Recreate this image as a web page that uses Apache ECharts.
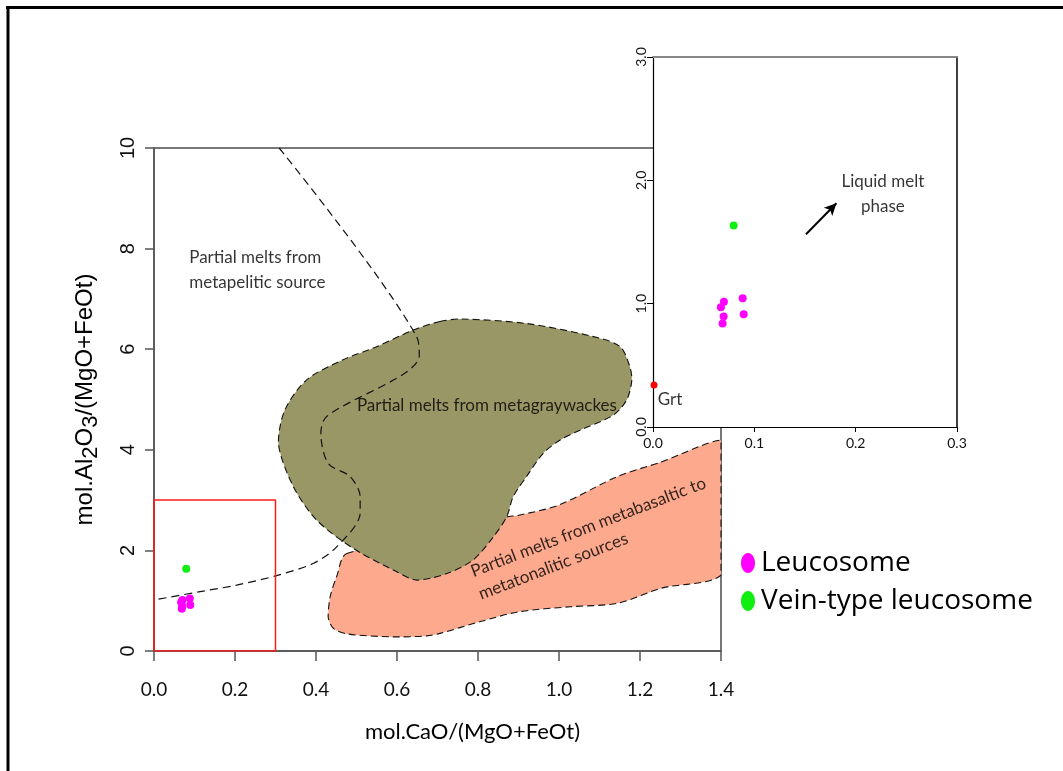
<!DOCTYPE html>
<html>
<head>
<meta charset="utf-8">
<script src="https://cdn.jsdelivr.net/npm/echarts@6/dist/echarts.min.js"></script>
<style>
html,body{margin:0;padding:0;background:#fff;}
#chart{width:1063px;height:771px;}
</style>
</head>
<body>
<div id="chart"></div>
<script>
// ---------------- data ----------------
// tick values of the main diagram and of the zoomed inset
var mainXTicks = [0, 0.2, 0.4, 0.6, 0.8, 1.0, 1.2, 1.4];
var mainYTicks = [0, 2, 4, 6, 8, 10];
var insetXTicks = [0, 0.1, 0.2, 0.3];
var insetYTicks = [0, 1, 2, 3];

// samples: [CaO/(MgO+FeOt), Al2O3/(MgO+FeOt)]
var leucosome = [[0.067, 0.97], [0.070, 1.016], [0.0885, 1.043], [0.0697, 0.895], [0.0687, 0.84], [0.0895, 0.914]];
var veinLeucosome = [[0.0796, 1.633]];
var garnet = [[0.001, 0.34]];

// field outlines
var metagraywackeField = [
	[0.706, 6.55], [0.756, 6.60], [0.920, 6.51], [1.085, 6.25], [1.151, 6.05], [1.175, 5.65],
	[1.180, 5.39], [1.167, 4.99], [1.134, 4.69], [1.052, 4.39], [1.002, 4.19], [0.961, 3.93],
	[0.920, 3.47], [0.887, 3.07], [0.871, 2.67], [0.838, 2.27], [0.788, 1.81], [0.723, 1.54],
	[0.649, 1.41], [0.591, 1.61], [0.492, 2.04], [0.402, 2.60], [0.344, 3.27], [0.307, 4.13],
	[0.323, 4.79], [0.377, 5.39], [0.467, 5.79], [0.550, 6.05], [0.640, 6.38]
];
var metabasaltField = [
	[0.476, 1.94], [0.657, 2.11], [0.867, 2.66], [0.901, 2.70], [0.999, 2.90], [1.145, 3.47],
	[1.253, 3.76], [1.400, 4.19], [1.400, 3.40], [1.400, 2.40], [1.400, 1.51], [1.253, 1.25],
	[1.145, 0.95], [1.028, 0.88], [0.901, 0.78], [0.804, 0.58], [0.706, 0.35], [0.673, 0.30],
	[0.591, 0.28], [0.476, 0.34], [0.443, 0.45], [0.430, 0.68], [0.435, 1.08], [0.451, 1.48]
];
var metapeliteBoundary = [
	[0.309, 10.0], [0.649, 6.24], [0.655, 5.88], [0.426, 4.66], [0.412, 4.33], [0.430, 3.73],
	[0.484, 3.47], [0.509, 3.07], [0.509, 2.74], [0.451, 2.07], [0.393, 1.74], [0.303, 1.50],
	[0.204, 1.31], [0.114, 1.18], [0.011, 1.03]
];
var zoomBox = [[0, 0], [0, 3], [0.3, 3], [0.3, 0], [0, 0]];
var meltArrow = [[0.151, 1.563], [0.181, 1.814]];

// text notes
var mainNotes = [
	{ text: 'Partial melts from\nmetapelitic source', at: [0.087, 7.575], align: 'left', rotate: 0 },
	{ text: 'Partial melts from metagraywackes', at: [0.822, 4.89], align: 'center', rotate: 0 },
	{ text: 'Partial melts from metabasaltic to', at: [0.784, 1.57], align: 'left', rotate: 21 },
	{ text: 'metatonalitic sources', at: [0.803, 1.12], align: 'left', rotate: 21 }
];
var insetNotes = [
	{ text: 'Liquid melt\nphase', at: [0.2268, 1.89], align: 'center', rotate: 0 },
	{ text: 'Grt', at: [0.0046, 0.219], align: 'left', rotate: 0 }
];

// ---------------- chart ----------------
var TEXT_FONT = 'Lato';
var fmt1 = function (v) { return v.toFixed(1); };

function fieldRender(points, fill)
{
	return function (params, api) {
		if (params.dataIndex !== 0) return;
		var pts = points.map(function (p) { return api.coord(p); });
		// keep the bezier control points inside the outline's box
		var lo = [Infinity, Infinity], hi = [-Infinity, -Infinity];
		pts.forEach(function (p) {
			lo[0] = Math.min(lo[0], p[0]); lo[1] = Math.min(lo[1], p[1]);
			hi[0] = Math.max(hi[0], p[0]); hi[1] = Math.max(hi[1], p[1]);
		});
		return {
			type: 'polygon',
			shape: { points: pts, smooth: 0.3, smoothConstraint: [lo, hi] },
			style: { fill: fill, stroke: '#111', lineWidth: 1.1, lineDash: [7, 4] }
		};
	};
}

function noteSeries(notes, xi, yi, z)
{
	return {
		type: 'scatter', xAxisIndex: xi, yAxisIndex: yi, z: z,
		symbolSize: 0, silent: true,
		data: notes.map(function (n) {
			return {
				value: n.at,
				label: {
					show: true, position: [0, 0], formatter: n.text,
					align: n.align, verticalAlign: 'middle', rotate: n.rotate,
					fontFamily: TEXT_FONT, fontSize: 17, lineHeight: 24.6, color: '#000'
				}
			};
		})
	};
}

var ellipse = 'path://M7,0 C10.9,0 14,4.5 14,10 C14,15.5 10.9,20 7,20 C3.1,20 0,15.5 0,10 C0,4.5 3.1,0 7,0 Z';

var option = {
	animation: false,
	backgroundColor: '#fff',
	graphic: [
		{ type: 'line', shape: { x1: 6, y1: 7.5, x2: 1063, y2: 7.5 }, style: { stroke: '#000', lineWidth: 3 } },
		{ type: 'line', shape: { x1: 8, y1: 6, x2: 8, y2: 771 }, style: { stroke: '#000', lineWidth: 3 } }
	],
	legend: {
		orient: 'vertical', left: 736, top: 544, itemGap: 10,
		itemWidth: 14, itemHeight: 20, icon: ellipse,
		data: ['Leucosome', 'Vein-type leucosome'],
		textStyle: { fontFamily: 'Open Sans', fontSize: 28, color: '#000', padding: [0, 0, 0, 1] }
	},
	grid: [
		{ left: 154, top: 148, width: 567, height: 503, show: true, borderColor: '#777', borderWidth: 2, backgroundColor: 'transparent' },
		{ left: 653, top: 57, width: 304, height: 370, show: true, borderWidth: 0, backgroundColor: '#fff', z: 5 }
	],
	xAxis: [
		{
			gridIndex: 0, type: 'value',
			min: mainXTicks[0], max: mainXTicks[mainXTicks.length - 1], interval: mainXTicks[1] - mainXTicks[0],
			axisLine: { show: true, onZero: false, lineStyle: { color: '#555', width: 1.5 } },
			axisTick: { show: true, length: 10, lineStyle: { color: '#555', width: 1.5 } },
			axisLabel: { margin: 29, fontSize: 19, fontFamily: TEXT_FONT, color: '#111', formatter: fmt1 },
			splitLine: { show: false },
			name: 'mol.CaO/(MgO+FeOt)', nameLocation: 'middle', nameGap: 70,
			nameTextStyle: { fontSize: 22, fontFamily: TEXT_FONT, color: '#000', padding: [0, 0, 0, 70] }
		},
		{
			gridIndex: 1, type: 'value', z: 10,
			min: insetXTicks[0], max: insetXTicks[insetXTicks.length - 1], interval: insetXTicks[1] - insetXTicks[0],
			axisLine: { show: true, onZero: false, lineStyle: { color: '#000', width: 1.2 } },
			axisTick: { show: true, length: 5, lineStyle: { color: '#000' } },
			axisLabel: { margin: 9, fontSize: 14, fontFamily: TEXT_FONT, color: '#111', formatter: fmt1 },
			splitLine: { show: false }
		},
		{
			gridIndex: 1, type: 'value', position: 'top', z: 10,
			min: 0, max: 0.3,
			axisLine: { show: true, onZero: false, lineStyle: { color: '#888', width: 2 } },
			axisTick: { show: false }, axisLabel: { show: false }, splitLine: { show: false }
		}
	],
	yAxis: [
		{
			gridIndex: 0, type: 'value',
			min: mainYTicks[0], max: mainYTicks[mainYTicks.length - 1], interval: mainYTicks[1] - mainYTicks[0],
			axisLine: { show: true, onZero: false, lineStyle: { color: '#555', width: 1.5 } },
			axisTick: { show: true, length: 9, lineStyle: { color: '#555', width: 1.5 } },
			axisLabel: { rotate: 90, margin: 16, fontSize: 20, fontFamily: 'Liberation Sans', color: '#111' },
			splitLine: { show: false },
			name: '{a|mol.Al}{s|2}{a|O}{s|3}{a|/(MgO+FeOt)}',
			nameLocation: 'middle', nameRotate: 90, nameGap: 52,
			nameTextStyle: {
				rich: {
					a: { fontSize: 24, fontFamily: 'Liberation Sans', color: '#000', lineHeight: 34 },
					s: { fontSize: 22, fontFamily: 'Liberation Sans', color: '#000', lineHeight: 34, verticalAlign: 'bottom' }
				}
			}
		},
		{
			gridIndex: 1, type: 'value', z: 10,
			min: insetYTicks[0], max: insetYTicks[insetYTicks.length - 1], interval: insetYTicks[1] - insetYTicks[0],
			axisLine: { show: true, onZero: false, lineStyle: { color: '#000', width: 1.2 } },
			axisTick: { show: true, length: 6, lineStyle: { color: '#000' } },
			axisLabel: { rotate: 90, margin: 5, fontSize: 14, fontFamily: TEXT_FONT, color: '#111', formatter: fmt1 },
			splitLine: { show: false }
		},
		{
			gridIndex: 1, type: 'value', position: 'right', z: 10,
			min: 0, max: 3,
			axisLine: { show: true, onZero: false, lineStyle: { color: '#000', width: 1.5 } },
			axisTick: { show: false }, axisLabel: { show: false }, splitLine: { show: false }
		}
	],
	series: [
		{ type: 'custom', name: 'metabasalt', xAxisIndex: 0, yAxisIndex: 0, silent: true,
		  data: metabasaltField, renderItem: fieldRender(metabasaltField, '#fca98d') },
		{ type: 'custom', name: 'metagraywacke', xAxisIndex: 0, yAxisIndex: 0, silent: true,
		  data: metagraywackeField, renderItem: fieldRender(metagraywackeField, '#9a9766') },
		{ type: 'line', name: 'metapelite', xAxisIndex: 0, yAxisIndex: 0, silent: true,
		  data: metapeliteBoundary, symbol: 'none', smooth: 0.3,
		  lineStyle: { color: '#111', width: 1.2, type: [8, 5] } },
		{ type: 'line', name: 'box', xAxisIndex: 0, yAxisIndex: 0, silent: true, z: 3,
		  data: zoomBox, symbol: 'none', lineStyle: { color: '#ff1a1a', width: 1.5 } },
		{ type: 'scatter', name: 'Leucosome', xAxisIndex: 0, yAxisIndex: 0, z: 4,
		  data: leucosome, symbolSize: 8, itemStyle: { color: '#ff00ff', opacity: 1 } },
		{ type: 'scatter', name: 'Vein-type leucosome', xAxisIndex: 0, yAxisIndex: 0, z: 4,
		  data: veinLeucosome, symbolSize: 8, itemStyle: { color: '#11ee11', opacity: 1 } },
		noteSeries(mainNotes, 0, 0, 4),

		{ type: 'scatter', name: 'Leucosome', xAxisIndex: 1, yAxisIndex: 1, z: 10,
		  data: leucosome, symbolSize: 8, itemStyle: { color: '#ff00ff', opacity: 1 } },
		{ type: 'scatter', name: 'Vein-type leucosome', xAxisIndex: 1, yAxisIndex: 1, z: 10,
		  data: veinLeucosome, symbolSize: 8, itemStyle: { color: '#11ee11', opacity: 1 } },
		{ type: 'scatter', name: 'Grt', xAxisIndex: 1, yAxisIndex: 1, z: 10, clip: false,
		  data: garnet, symbolSize: 7, itemStyle: { color: '#ff0000', opacity: 1 } },
		(function () {
			var s = noteSeries(insetNotes, 1, 1, 10);
			s.markLine = {
				silent: true, symbol: ['none', 'arrow'], symbolSize: [9, 12],
				label: { show: false },
				lineStyle: { color: '#000', width: 2, type: 'solid' },
				data: [[{ coord: meltArrow[0] }, { coord: meltArrow[1] }]]
			};
			return s;
		})()
	]
};

var myChart = echarts.init(document.getElementById('chart'));
myChart.setOption(option);
</script>
</body>
</html>
